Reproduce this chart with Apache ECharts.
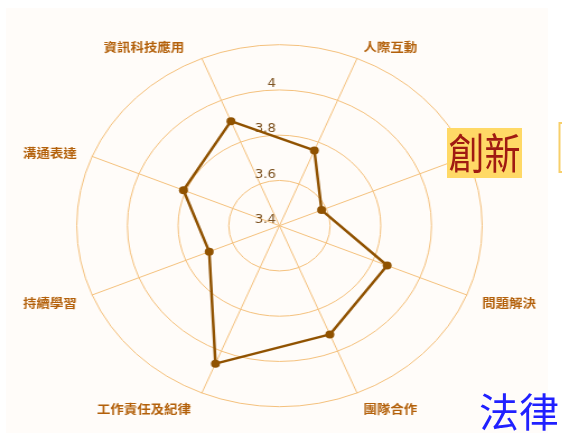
<!DOCTYPE html>
<html><head><meta charset="utf-8">
<script src="https://cdn.jsdelivr.net/npm/echarts@6/dist/echarts.min.js"></script>
<style>
html,body{margin:0;padding:0;background:#fff;}
#wrap{position:relative;width:562px;height:433px;overflow:hidden;background:#fff;}
#bg{position:absolute;left:6px;top:8px;width:542px;height:425px;background:#fffcf9;}
#radar{position:absolute;left:0;top:0;width:502px;height:433px;transform:scaleX(1.12);transform-origin:0 0;}
#over{position:absolute;left:0;top:0;width:562px;height:433px;}
</style></head><body>
<div id="wrap"><div id="bg"></div><div id="radar"></div><div id="over"></div></div>
<script>
// indicators in ECharts order (counter-clockwise from upper-left)
const indicatorNames = ['資訊科技應用','溝通表達','持續學習','工作責任及紀律','團隊合作','問題解決','創新','人際互動'];
const scores = [3.90, 3.81, 3.70, 4.06, 3.92, 3.86, 3.58, 3.76];
const axisMin = 3.4;
const axisMax = 4.2;
const tickLabels = ['3.4', '3.6', '3.8', '4', ''];
const highlightName = '創新';
const noteText = '法律';

const sideKey = {'資訊科技應用':'tl','溝通表達':'sl','持續學習':'sl','工作責任及紀律':'bl','團隊合作':'tr','問題解決':'sr','創新':'sr','人際互動':'tr'};

const chart = echarts.init(document.getElementById('radar'));
const nameFont = {color:'#b3600a', fontSize:12, fontWeight:'bold', fontFamily:'Noto Sans CJK TC'};
chart.setOption({
  animation:false,
  radar:[{
    center:[249.5, 225.7], radius:181, startAngle:112.5, splitNumber:4, shape:'circle',
    indicator: indicatorNames.map(n => ({name:n, min:axisMin, max:axisMax})),
    nameGap:15,
    axisName:{
      formatter: n => n === highlightName ? '' : '{' + sideKey[n] + '|' + n + '}',
      rich:{
        tl:Object.assign({padding:[5,10,0,0]}, nameFont),
        bl:Object.assign({padding:[5,4,0,0]}, nameFont),
        sl:Object.assign({padding:[5,0,0,0]}, nameFont),
        tr:Object.assign({padding:[5,0,0,0]}, nameFont),
        sr:Object.assign({padding:[5,0,0,0]}, nameFont)
      }
    },
    axisLine:{lineStyle:{color:'#f4c07c', width:1}},
    splitLine:{lineStyle:{color:'#f4c07c', width:1}},
    splitArea:{show:false},
    axisTick:{show:false},
    axisLabel:{show:false}
  },{
    center:[249.5, 225.7], radius:181, startAngle:90, splitNumber:4, shape:'circle',
    indicator:[{name:'', min:axisMin, max:axisMax}],
    axisName:{show:false},
    axisLine:{show:false}, splitLine:{show:false}, splitArea:{show:false}, axisTick:{show:false},
    axisLabel:{show:true, showMinLabel:true, showMaxLabel:true,
      formatter:(v, i) => tickLabels[i] || '',
      color:'#7d5220', fontSize:12, fontFamily:'DejaVu Sans', margin:3, verticalAlign:'bottom'}
  }],
  series:[{
    type:'radar', radarIndex:0,
    symbol:'circle', symbolSize:8,
    lineStyle:{color:'#905200', width:2.5},
    itemStyle:{color:'#905200'},
    data:[{value:scores, name:'分數'}]
  }]
});

const over = echarts.init(document.getElementById('over'));
over.setOption({
  graphic:[
    {type:'rect', shape:{x:447, y:128, width:75, height:50}, style:{fill:'#ffd966'}},
    {type:'text', x:484.5, y:153, scaleY:1.18, style:{text:highlightName, fill:'#a01a12', font:'36px "Noto Sans CJK TC"', align:'center', verticalAlign:'middle'}},
    {type:'rect', shape:{x:559.5, y:123, width:12, height:49}, style:{fill:'#fff', stroke:'#f7cf6a', lineWidth:2}},
    {type:'text', x:479, y:412, style:{text:noteText, fill:'#2020ff', font:'40px "Noto Sans CJK TC"', align:'left', verticalAlign:'middle'}}
  ]
});
</script>
</body></html>
